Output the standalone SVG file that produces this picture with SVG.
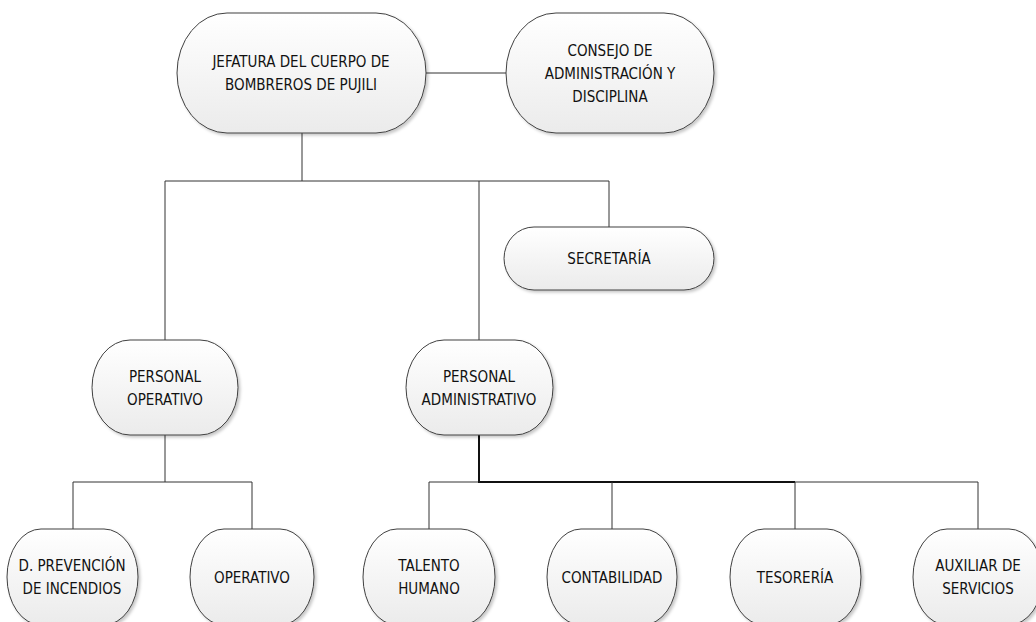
<svg xmlns="http://www.w3.org/2000/svg" width="1036" height="622" viewBox="0 0 1036 622">
<defs>
<linearGradient id="fillg" x1="0" y1="0" x2="0" y2="1">
<stop offset="0" stop-color="#ffffff"/>
<stop offset="1" stop-color="#ebebeb"/>
</linearGradient>
<filter id="sh" x="-10%" y="-10%" width="130%" height="130%">
<feDropShadow dx="2" dy="2" stdDeviation="1.5" flood-color="#000" flood-opacity="0.22"/>
</filter>
</defs>
<style>
.node path{fill:url(#fillg);stroke:#404040;stroke-width:1;filter:url(#sh)}
.node text{font-family:"DejaVu Sans Condensed","Liberation Sans",sans-serif;font-size:15px;fill:#111;text-anchor:middle}
.conn{fill:none;stroke:#333;stroke-width:1}
.conn .thick{stroke:#111;stroke-width:2}
</style>
<rect width="1036" height="622" fill="#ffffff"/>
<g id="connectors" class="conn">
<line x1="426" y1="73" x2="506" y2="73"/>
<line x1="302" y1="133" x2="302" y2="181"/>
<line x1="165" y1="181" x2="609" y2="181"/>
<line x1="165" y1="181" x2="165" y2="340"/>
<line x1="479" y1="181" x2="479" y2="340"/>
<line x1="609" y1="181" x2="609" y2="227"/>
<line x1="165" y1="435" x2="165" y2="482"/>
<line x1="73" y1="482" x2="252" y2="482"/>
<line x1="73" y1="482" x2="73" y2="529"/>
<line x1="252" y1="482" x2="252" y2="529"/>
<line x1="429" y1="482" x2="978" y2="482"/>
<line class="thick" x1="479" y1="435" x2="479" y2="482"/>
<line class="thick" x1="478" y1="482" x2="795" y2="482"/>
<line x1="429" y1="482" x2="429" y2="529"/>
<line x1="612" y1="482" x2="612" y2="529"/>
<line x1="795" y1="482" x2="795" y2="529"/>
<line x1="978" y1="482" x2="978" y2="529"/>
</g>
<g id="jefatura" class="node">
<path d="M227,13 H376 A50,60 0 0 1 376,133 H227 A50,60 0 0 1 227,13 Z"/>
<text x="301" y="67">JEFATURA DEL CUERPO DE</text>
<text x="301" y="90">BOMBREROS DE PUJILI</text>
</g>
<g id="consejo" class="node">
<path d="M556,13 H664 A50,60 0 0 1 664,133 H556 A50,60 0 0 1 556,13 Z"/>
<text x="610" y="56">CONSEJO DE</text>
<text x="610" y="79">ADMINISTRACIÓN Y</text>
<text x="610" y="102">DISCIPLINA</text>
</g>
<g id="secretaria" class="node">
<path d="M534,227 H684 A30,31.5 0 0 1 684,290 H534 A30,31.5 0 0 1 534,227 Z"/>
<text x="609" y="264">SECRETARÍA</text>
</g>
<g id="personal-operativo" class="node">
<path d="M130,340 H200 A38,47.5 0 0 1 200,435 H130 A38,47.5 0 0 1 130,340 Z"/>
<text x="165" y="382">PERSONAL</text>
<text x="165" y="405">OPERATIVO</text>
</g>
<g id="personal-administrativo" class="node">
<path d="M444,340 H515 A38,47.5 0 0 1 515,435 H444 A38,47.5 0 0 1 444,340 Z"/>
<text x="479" y="382">PERSONAL</text>
<text x="479" y="405">ADMINISTRATIVO</text>
</g>
<g id="prevencion" class="node">
<path d="M41,529 H104 A34,48 0 0 1 104,625 H41 A34,48 0 0 1 41,529 Z"/>
<text x="72" y="571">D. PREVENCIÓN</text>
<text x="72" y="594">DE INCENDIOS</text>
</g>
<g id="operativo" class="node">
<path d="M224,529 H280 A34,48 0 0 1 280,625 H224 A34,48 0 0 1 224,529 Z"/>
<text x="252" y="583">OPERATIVO</text>
</g>
<g id="talento" class="node">
<path d="M397,529 H461 A34,48 0 0 1 461,625 H397 A34,48 0 0 1 397,529 Z"/>
<text x="429" y="571">TALENTO</text>
<text x="429" y="594">HUMANO</text>
</g>
<g id="contabilidad" class="node">
<path d="M581,529 H643 A34,48 0 0 1 643,625 H581 A34,48 0 0 1 581,529 Z"/>
<text x="612" y="583">CONTABILIDAD</text>
</g>
<g id="tesoreria" class="node">
<path d="M764,529 H827 A34,48 0 0 1 827,625 H764 A34,48 0 0 1 764,529 Z"/>
<text x="795" y="583">TESORERÍA</text>
</g>
<g id="auxiliar" class="node">
<path d="M947,529 H1009 A34,48 0 0 1 1009,625 H947 A34,48 0 0 1 947,529 Z"/>
<text x="978" y="571">AUXILIAR DE</text>
<text x="978" y="594">SERVICIOS</text>
</g>
</svg>
